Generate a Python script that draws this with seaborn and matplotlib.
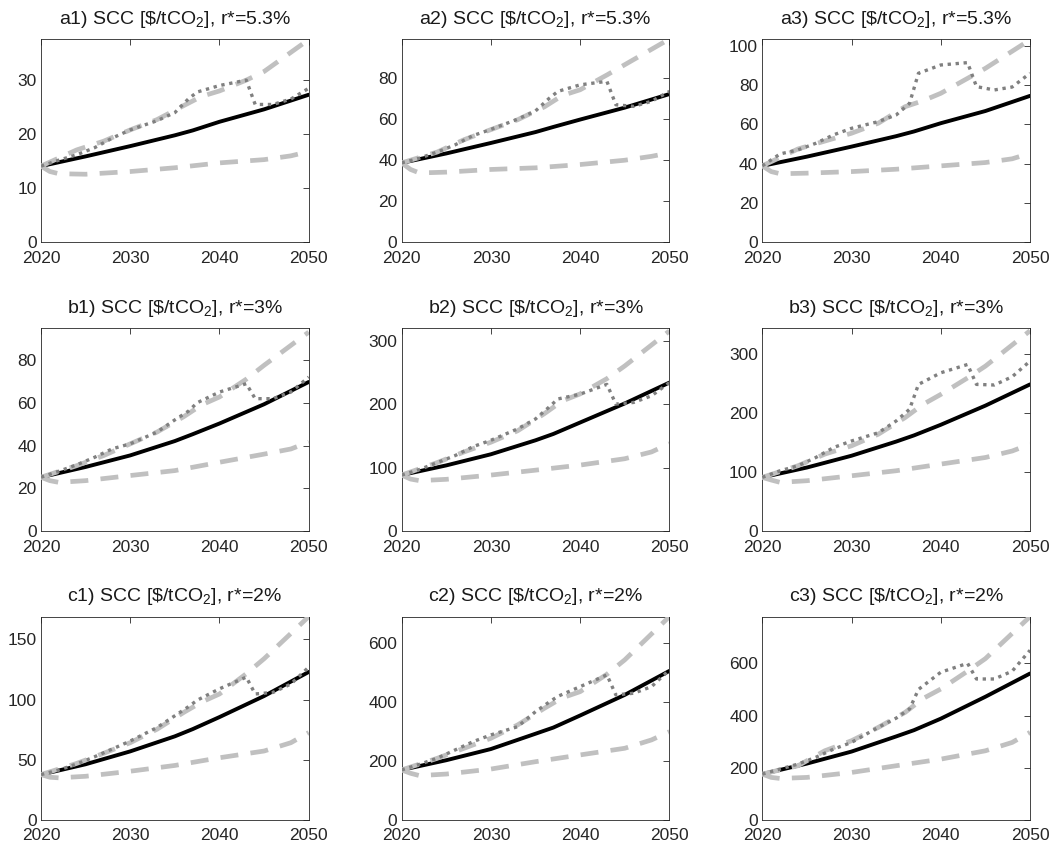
import seaborn as sns
import matplotlib.pyplot as plt
import pandas as pd

# Year grids used for each line type
years_central = [2020, 2025, 2030, 2035, 2037, 2040, 2045, 2050]
years_high = [2020, 2024, 2027, 2030, 2033, 2036, 2038, 2040, 2043, 2045, 2050]
years_dotted = [2020, 2022, 2024, 2026, 2028, 2030, 2033, 2035, 2036.5, 2037.5,
                2040, 2043, 2044, 2046, 2048, 2050]
years_low = [2020, 2021, 2022, 2025, 2030, 2035, 2040, 2045, 2048, 2050]

panel_ids = ["a1", "a2", "a3", "b1", "b2", "b3", "c1", "c2", "c3"]
rates = ["5.3%", "5.3%", "5.3%", "3%", "3%", "3%", "2%", "2%", "2%"]

# Central estimate (black solid)
central = {
    "a1": [14.1, 15.9, 17.8, 19.8, 20.7, 22.3, 24.6, 27.3],
    "a2": [38.7, 43.3, 48.4, 53.7, 56.2, 59.8, 65.6, 72.2],
    "a3": [38.9, 43.6, 48.7, 54.0, 56.4, 60.6, 66.8, 74.5],
    "b1": [25.2, 30.0, 35.4, 42.1, 45.3, 50.3, 59.3, 69.7],
    "b2": [88.3, 103.5, 121, 143, 153, 171, 201, 233.8],
    "b3": [91.3, 108, 128, 152, 162.5, 180.5, 213, 249],
    "c1": [37.7, 46.3, 57.0, 69.5, 75.5, 85.5, 103, 123],
    "c2": [170, 203, 241, 293, 314, 355, 425, 506.5],
    "c3": [175.7, 216, 262, 320, 344, 388, 472, 561],
}

# Upper bound (light grey dashed)
high = {
    "a1": [14.1, 17.1, 18.7, 20.8, 22.7, 25.3, 27.0, 28.0, 30.0, 31.6, 37.5],
    "a2": [38.7, 44, 50, 54.9, 59.7, 66, 71.5, 74.3, 81.5, 86.5, 99],
    "a3": [38.9, 47.5, 51.5, 55.5, 60.6, 69, 72, 75.8, 83.4, 88.5, 103],
    "b1": [25.2, 30.6, 35.3, 40.8, 46.3, 53.5, 59, 62.7, 71, 77.5, 93],
    "b2": [88.3, 108, 124.7, 140, 158, 185, 205, 216, 240, 260, 315],
    "b3": [91.3, 111, 130.7, 144.8, 164.5, 192.7, 215, 232, 260, 280, 340],
    "c1": [37.7, 47, 55.3, 64.2, 75.4, 89.4, 98, 104.7, 121.5, 134, 169],
    "c2": [170, 209.6, 243.6, 277.6, 323, 379.6, 415, 436, 495, 544, 691],
    "c3": [175.7, 207.7, 265, 303.5, 354.6, 412, 465, 501.6, 570, 618, 779],
}

# Alternative path (dark grey dotted)
dotted = {
    "a1": [14.1, 15.2, 16.2, 17.5, 19.3, 20.8, 22.5, 24.0, 26.5, 27.8, 29.0, 30.0, 25.5, 25.5, 26.5, 28.5],
    "a2": [38.7, 41, 44, 47.5, 52, 55, 60, 64, 70, 73.5, 76.7, 78.4, 67, 66.2, 68.7, 73.5],
    "a3": [38.9, 45, 47, 50.4, 54.7, 58, 61.4, 64.8, 70.7, 86, 90.2, 91.4, 79.2, 77.5, 79, 86],
    "b1": [25.2, 28, 31, 34.5, 38.5, 40.8, 46.3, 52, 56, 60, 65, 68.9, 61.9, 61.9, 65, 72],
    "b2": [88.3, 97, 108, 119, 133, 143, 161, 176.6, 195, 208, 215.6, 231, 200, 202.6, 213, 233.8],
    "b3": [91.3, 102.5, 111, 125, 142, 153, 167, 187, 206.8, 249, 268.7, 282.8, 249, 248, 262, 288.5],
    "c1": [37.7, 41.5, 46.5, 52.5, 59, 65.6, 76.8, 86.6, 94, 99.5, 109, 118.7, 104.7, 106, 113, 127],
    "c2": [170, 189, 210, 238, 266, 289, 317, 368, 400, 420, 453, 493, 425, 430.6, 453, 510],
    "c3": [175.7, 195, 214, 240, 271.6, 297, 355, 390, 425, 500, 566, 600, 540, 540, 570, 650],
}

# Lower bound (light grey dashed)
low = {
    "a1": [14.1, 13.1, 12.7, 12.6, 13.1, 13.8, 14.7, 15.3, 16.0, 16.8],
    "a2": [38.7, 35.5, 33.8, 34.2, 35.5, 36.3, 37.9, 40, 41.9, 43.6],
    "a3": [38.9, 36, 34.9, 35.2, 36, 37.2, 38.9, 40.6, 42.5, 45.3],
    "b1": [25.2, 23.6, 22.8, 23.6, 26, 28.3, 32.2, 36, 38.4, 41.6],
    "b2": [88.3, 82, 79.5, 81.6, 88.3, 96, 104, 114, 124.7, 137.7],
    "b3": [91.3, 86.8, 82.8, 85.6, 94, 102.5, 113.8, 125, 136, 147.6],
    "c1": [37.7, 35.5, 35, 36.3, 40.5, 45.3, 51.7, 57.3, 64.2, 72.6],
    "c2": [170, 158.6, 150.7, 156, 173, 198, 221, 243.6, 272, 300],
    "c3": [175.7, 163, 159, 163, 182, 207.7, 233, 265, 297, 335.5],
}

y_top = {"a1": 37.6, "a2": 99, "a3": 103.4, "b1": 95, "b2": 320, "b3": 345,
         "c1": 169, "c2": 691, "c3": 779}
y_step = {"a1": 10, "a2": 20, "a3": 20, "b1": 20, "b2": 100, "b3": 100,
          "c1": 50, "c2": 200, "c3": 200}

sns.set_style("white")
plt.rcParams["font.family"] = ["Liberation Sans", "DejaVu Sans"]
plt.rcParams["mathtext.fontset"] = "custom"
plt.rcParams["mathtext.rm"] = "Liberation Sans"
plt.rcParams["mathtext.it"] = "Liberation Sans"

fig, axes = plt.subplots(3, 3, figsize=(10.62, 8.52), dpi=100)
fig.subplots_adjust(left=0.0386, right=0.9699, top=0.9542, bottom=0.0376,
                    wspace=0.347, hspace=0.42)

dash = (0, (3.8, 2.6))
dots = (0, (1, 1.4))

for ax, pid, rate in zip(axes.flat, panel_ids, rates):
    sns.lineplot(x=years_central, y=central[pid], ax=ax, color="black",
                 linewidth=2.8, zorder=2)
    sns.lineplot(x=years_high, y=high[pid], ax=ax, color="#c0c0c0",
                 linewidth=3.4, linestyle=dash, zorder=3)
    sns.lineplot(x=years_low, y=low[pid], ax=ax, color="#c0c0c0",
                 linewidth=3.4, linestyle=dash, zorder=3)
    sns.lineplot(x=years_dotted, y=dotted[pid], ax=ax, color="#808080",
                 linewidth=2.4, linestyle=dots, zorder=4)

    ax.set_xlim(2020, 2050)
    ax.set_ylim(0, y_top[pid])
    ax.set_xticks([2020, 2030, 2040, 2050])
    ax.set_yticks(list(range(0, int(y_top[pid]) + 1, y_step[pid])))
    ax.tick_params(direction="in", top=True, right=True, length=4,
                   width=0.6, colors="#262626", labelsize=12.5)
    ax.tick_params(axis="x", pad=6)
    ax.tick_params(axis="y", pad=3)
    for sp in ax.spines.values():
        sp.set_color("#262626")
        sp.set_linewidth(0.6)
    ax.set_title(pid + r") SCC [\$/tCO$_2$], r*=" + rate, fontsize=14,
                 color="#1a1a1a", pad=11)

plt.savefig("out.png", dpi=100)
